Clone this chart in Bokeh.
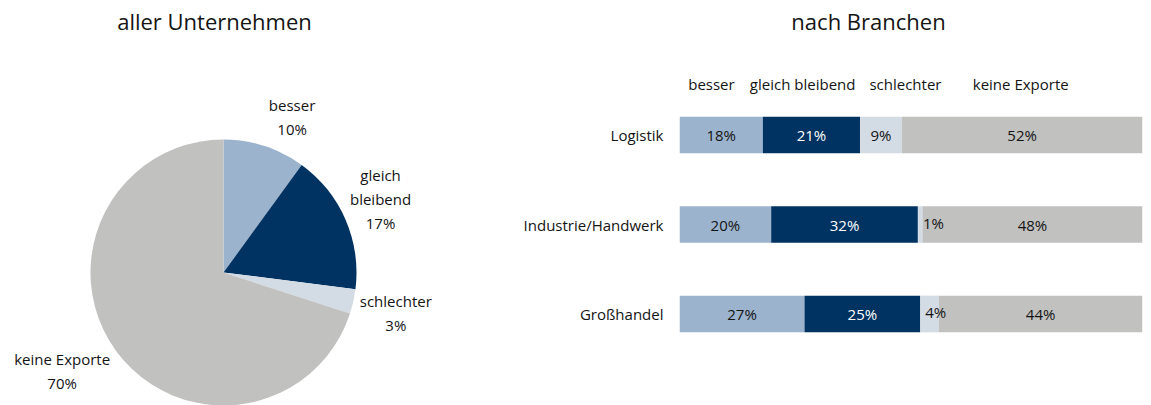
import math
from bokeh.plotting import figure
from bokeh.layouts import row
from bokeh.models import Range1d, FixedTicker
from bokeh.core.properties import value
from bokeh.embed import file_html
from bokeh.resources import INLINE

# ---------------- data ----------------
pie_labels = ["besser", "gleich\nbleibend", "schlechter", "keine Exporte"]
pie_values = [10, 17, 3, 70]

categories = ["Logistik", "Industrie/Handwerk", "Großhandel"]
series_names = ["besser", "gleich bleibend", "schlechter", "keine Exporte"]
besser = [18, 20, 27]
gleich_bleibend = [21, 32, 25]
schlechter = [9, 1, 4]
keine_exporte = [52, 48, 44]

pie_title = "aller Unternehmen"
bar_title = "nach Branchen"

# ---------------- style ----------------
FONT = "Open Sans"
TXT = "#141414"
colors = ["#9bb3cd", "#003262", "#d3dbe4", "#c1c1c0"]
label_colors = [TXT, "#ffffff", TXT, TXT]

TOTAL_H = 405
PIE_W = 458
BAR_W = 693

# ---------------- pie ----------------
R = 133
PIE_CX, PIE_CY = 223, 272   # pixel position of pie centre within its figure
pie = figure(width=PIE_W, height=TOTAL_H, output_backend="svg", toolbar_location=None,
             x_range=Range1d(-PIE_CX, PIE_W - PIE_CX),
             y_range=Range1d(-(TOTAL_H - PIE_CY), PIE_CY),
             min_border=0)
pie.axis.visible = False
pie.grid.visible = False
pie.outline_line_color = None
pie.background_fill_color = None
pie.border_fill_color = "white"


def sgn(a):
    return 1 if a > 1e-9 else (-1 if a < -1e-9 else 0)


total = sum(pie_values)
cum = 0.0
starts, ends, lx, ly, ltxt = [], [], [], [], []
for lab, v in zip(pie_labels, pie_values):
    f0 = cum / total
    f1 = (cum + v) / total
    starts.append(math.pi / 2 - 2 * math.pi * f0)
    ends.append(math.pi / 2 - 2 * math.pi * f1)
    mid = 2 * math.pi * (f0 + f1) / 2
    lines = lab.split("\n") + [f"{v}%"]
    hw = max(len(s) for s in lines) * 7.5 / 2
    hh = len(lines) * 24 / 2
    s_, c_ = math.sin(mid), math.cos(mid)
    lx.append(R * s_ + sgn(s_) * (hw + 5))
    ly.append(R * c_ + hh * c_ + 6 * sgn(c_))
    ltxt.append("\n".join(lines))
    cum += v

pie.wedge(x=0, y=0, radius=R, start_angle=starts, end_angle=ends, direction="clock",
          fill_color=colors, line_color=None)
pie.text(x=lx, y=ly, text=ltxt, text_font=value(FONT), text_font_size="15px",
         text_color=TXT, text_align="center", text_baseline="middle", text_line_height=1.2)
pie.text(x=[214 - PIE_CX], y=[PIE_CY - 20], text=[pie_title], text_font=value(FONT),
         text_font_size="22px", text_color=TXT, text_align="center", text_baseline="middle")

# ---------------- stacked bars ----------------
LEFT_BORDER = 221
RIGHT_BORDER = 9
ROW0_PX = 134.5   # centre of first row, pixels from figure top
ROW_STEP = 89.5
n = len(categories)
ypos = [n - i for i in range(n)]
y_top = n + ROW0_PX / ROW_STEP
y_bot = n - (TOTAL_H - ROW0_PX) / ROW_STEP


def py_to_y(py):
    return n + (ROW0_PX - py) / ROW_STEP


bar = figure(width=BAR_W, height=TOTAL_H, output_backend="svg", toolbar_location=None,
             x_range=Range1d(0, 100), y_range=Range1d(y_bot, y_top),
             min_border_left=LEFT_BORDER, min_border_right=RIGHT_BORDER,
             min_border_top=0, min_border_bottom=0)
bar.xaxis.visible = False
bar.grid.visible = False
bar.outline_line_color = None
yax = bar.yaxis[0]
yax.ticker = FixedTicker(ticks=ypos)
yax.major_label_overrides = {y: c for y, c in zip(ypos, categories)}
yax.axis_line_color = None
yax.major_tick_line_color = None
yax.minor_tick_line_color = None
yax.major_label_standoff = 10
yax.major_label_text_font = FONT
yax.major_label_text_font_size = "15px"
yax.major_label_text_color = TXT

series = [besser, gleich_bleibend, schlechter, keine_exporte]
row_tot = [sum(s[i] for s in series) for i in range(n)]
left = [0.0] * n
text_jobs = []
for si, s in enumerate(series):
    lefts = list(left)
    rights = [left[i] + s[i] / row_tot[i] * 100 for i in range(n)]
    bar.hbar(y=ypos, left=lefts, right=rights, height=0.41, fill_color=colors[si], line_color=None)
    text_jobs.append((si, s, lefts, rights))
    left = rights

for si, s, lefts, rights in text_jobs:
    big = [i for i in range(n) if s[i] >= 5]
    small = [i for i in range(n) if s[i] < 5]
    if big:
        bar.text(x=[(lefts[i] + rights[i]) / 2 for i in big], y=[ypos[i] for i in big],
                 text=[f"{s[i]}%" for i in big], text_font=value(FONT), text_font_size="15px",
                 text_color=label_colors[si], text_align="center", text_baseline="middle")
    if small:
        bar.text(x=[lefts[i] for i in small], y=[ypos[i] for i in small],
                 text=[f"{s[i]}%" for i in small], text_font=value(FONT), text_font_size="15px",
                 text_color=label_colors[si], text_align="left", text_baseline="middle",
                 x_offset=5, y_offset=-2)

# header legend texts (layout positions in % of bar width)
header_x = [6.9, 26.6, 48.8, 73.7]
bar.text(x=header_x, y=[py_to_y(83)] * len(series_names), text=series_names,
         text_font=value(FONT), text_font_size="15px", text_color=TXT,
         text_align="center", text_baseline="middle")
bar.text(x=[(868 - 679) / 463 * 100], y=[py_to_y(20)], text=[bar_title],
         text_font=value(FONT), text_font_size="22px", text_color=TXT,
         text_align="center", text_baseline="middle")

layout = row(pie, bar, spacing=0)
open("out.html", "w").write(file_html(layout, INLINE))
